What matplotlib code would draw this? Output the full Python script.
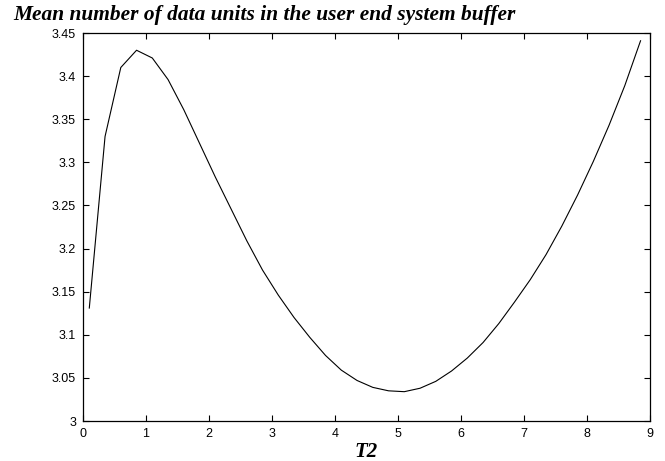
import numpy as np
import matplotlib
matplotlib.use("Agg")
import matplotlib.pyplot as plt

# T2 sampled every 0.25 starting at 0.1
t2 = [0.1, 0.35, 0.6, 0.85, 1.1, 1.35, 1.6, 1.85, 2.1, 2.35, 2.6, 2.85,
      3.1, 3.35, 3.6, 3.85, 4.1, 4.35, 4.6, 4.85, 5.1, 5.35, 5.6, 5.85,
      6.1, 6.35, 6.6, 6.85, 7.1, 7.35, 7.6, 7.85, 8.1, 8.35, 8.6, 8.85]
mean_units = [3.131, 3.330, 3.410, 3.430, 3.421, 3.396, 3.361, 3.322,
              3.283, 3.246, 3.209, 3.175, 3.146, 3.120, 3.097, 3.076,
              3.059, 3.047, 3.039, 3.035, 3.034, 3.038, 3.046, 3.058,
              3.073, 3.091, 3.113, 3.138, 3.164, 3.193, 3.226, 3.262,
              3.301, 3.343, 3.389, 3.441]

x_ticks = np.arange(0, 10, 1)
y_ticks = [3, 3.05, 3.1, 3.15, 3.2, 3.25, 3.3, 3.35, 3.4, 3.45]
y_labels = ["3", "3.05", "3.1", "3.15", "3.2", "3.25", "3.3", "3.35", "3.4", "3.45"]

fig = plt.figure(figsize=(6.65, 4.61), dpi=100)
ax = fig.add_axes([83/665, 1 - 421/461, (650 - 83)/665, (421 - 33)/461])

ax.plot(t2, mean_units, color="black", linewidth=0.8)

ax.set_xlim(0, 9)
ax.set_ylim(3, 3.45)
ax.set_xticks(x_ticks)
ax.set_xticklabels([str(v) for v in x_ticks])
ax.set_yticks(y_ticks)
ax.set_yticklabels(y_labels)
ax.tick_params(direction="in", length=4, width=0.8, top=True, right=True,
               labelsize=9, pad=5)
for lab in ax.get_xticklabels() + ax.get_yticklabels():
    lab.set_family("Liberation Sans")
for s in ax.spines.values():
    s.set_linewidth(0.9)

fig.text(13/665, 1 - 20/461, "Mean number of data units in the user end system buffer",
         family="Liberation Serif", weight="bold", style="italic", fontsize=15.4,
         va="baseline")
# x label placed by hand so it stays inside the figure
fig.text((83 + 650) / 2 / 665, 1 - 457/461, "T2", family="Liberation Serif",
         weight="bold", style="italic", fontsize=15, ha="center", va="baseline")

fig.savefig("out.png", dpi=100)
